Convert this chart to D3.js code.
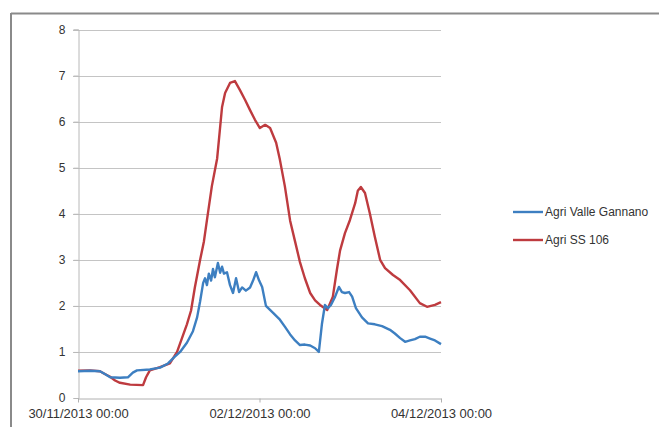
<!DOCTYPE html>
<html>
<head>
<meta charset="utf-8">
<script src="https://cdn.jsdelivr.net/npm/d3@7"></script>
<style>
html,body{margin:0;padding:0;background:#fff;}
svg{display:block;}
text{font-family:"Liberation Sans",Arial,sans-serif;fill:#333;}
</style>
</head>
<body>
<svg id="chart" width="659" height="427"></svg>
<script>
// hours after 30/11/2013 00:00
const seriesNames = ["Agri Valle Gannano", "Agri SS 106"];
const seriesColors = ["#3d7fc1", "#be3b3f"];
const yTicks = [0, 1, 2, 3, 4, 5, 6, 7, 8];
const xTickHours = [0, 48, 96];
const xTickLabels = ["30/11/2013 00:00", "02/12/2013 00:00", "04/12/2013 00:00"];

const blueHours = [0,3.2,5.8,7.1,8.5,11.1,13.2,14.5,15.6,19.0,21.7,23.8,25.4,27.0,28.8,30.4,31.5,32.3,33.1,33.6,34.1,34.6,35.2,35.7,36.2,37.0,37.6,38.1,38.6,39.4,40.2,41.0,41.8,42.6,43.4,44.4,45.5,46.3,47.1,47.9,48.7,49.7,51.6,53.4,54.7,56.1,57.4,58.7,60.0,61.4,62.7,63.7,64.5,65.3,66.1,66.9,68.0,69.0,69.8,70.6,71.7,72.5,73.5,75.1,76.7,78.5,80.4,82.5,83.8,85.2,86.5,87.8,89.1,90.4,91.8,93.1,94.4,96];
const blueValues = [0.58,0.59,0.58,0.52,0.45,0.44,0.45,0.55,0.6,0.62,0.66,0.75,0.88,1.0,1.2,1.45,1.75,2.1,2.5,2.6,2.45,2.7,2.55,2.8,2.62,2.93,2.72,2.85,2.7,2.73,2.45,2.28,2.6,2.3,2.4,2.33,2.4,2.55,2.73,2.55,2.41,2.0,1.85,1.7,1.55,1.38,1.25,1.15,1.16,1.14,1.08,1.0,1.6,2.02,1.95,2.02,2.2,2.41,2.3,2.28,2.3,2.2,1.95,1.75,1.62,1.6,1.56,1.48,1.4,1.3,1.22,1.25,1.28,1.33,1.33,1.29,1.25,1.17];

const redHours = [0,3.2,5.8,7.1,8.5,9.8,11.1,13.8,17.2,18.0,19.0,21.7,24.3,26.2,27.5,28.8,29.9,30.9,32.3,33.3,34.1,35.4,36.8,38.1,38.9,40.2,41.5,42.8,44.2,45.5,46.8,48.1,49.5,50.8,52.4,53.4,54.7,56.1,57.4,58.7,60.0,61.4,62.7,64.0,65.9,67.4,68.5,69.3,70.6,71.9,73.3,74.0,74.8,75.9,77.2,78.5,79.9,81.2,83.3,85.2,87.8,90.4,92.3,94.4,96];
const redValues = [0.59,0.6,0.58,0.52,0.46,0.38,0.33,0.29,0.28,0.45,0.6,0.67,0.75,1.0,1.3,1.6,1.9,2.4,3.0,3.4,3.86,4.6,5.2,6.32,6.62,6.84,6.88,6.69,6.47,6.25,6.04,5.86,5.93,5.86,5.54,5.17,4.6,3.85,3.4,2.95,2.6,2.28,2.12,2.02,1.91,2.2,2.8,3.2,3.58,3.86,4.23,4.5,4.58,4.45,4.0,3.5,3.0,2.82,2.67,2.56,2.34,2.06,1.98,2.02,2.08];

const start = new Date(2013, 10, 30, 0, 0);
const toDate = h => new Date(start.getTime() + h * 3600000);

const svg = d3.select("#chart");

// frame
svg.append("line").attr("x1", 11).attr("x2", 659).attr("y1", 13.5).attr("y2", 13.5)
  .attr("stroke", "#8a8a8a").attr("stroke-width", 2);
svg.append("line").attr("x1", 11).attr("x2", 11).attr("y1", 13).attr("y2", 427)
  .attr("stroke", "#8a8a8a").attr("stroke-width", 2);

const x = d3.scaleTime().domain([toDate(0), toDate(96)]).range([78, 441]);
const y = d3.scaleLinear().domain([0, 8]).range([398, 29.5]);

// gridlines
svg.append("g").selectAll("line").data(yTicks.filter(d => d > 0)).join("line")
  .attr("x1", 73).attr("x2", 441)
  .attr("y1", d => Math.round(y(d)) + 0.5).attr("y2", d => Math.round(y(d)) + 0.5)
  .attr("stroke", "#c4c4c4").attr("stroke-width", 1);

// y axis
const yAxis = d3.axisLeft(y).tickValues(yTicks).tickSize(5).tickPadding(8);
const gy = svg.append("g").attr("transform", "translate(78.5,0)").call(yAxis);
gy.select(".domain").attr("stroke", "#b8b8b8");
gy.selectAll(".tick line").attr("stroke", "#b8b8b8");
gy.selectAll(".tick text").style("font-size", "12px").attr("fill", "#333");

// x axis
const xAxis = d3.axisBottom(x).tickValues(xTickHours.map(toDate))
  .tickFormat((d, i) => xTickLabels[i]).tickSize(4).tickPadding(6).tickSizeOuter(0);
const gx = svg.append("g").attr("transform", "translate(0,398.5)").call(xAxis);
gx.select(".domain").attr("stroke", "#b0b0b0");
gx.selectAll(".tick line").attr("stroke", "#b0b0b0");
gx.selectAll(".tick text").style("font-size", "13px").attr("fill", "#333");

// lines
const line = d3.line().x(d => x(toDate(d[0]))).y(d => y(d[1])).curve(d3.curveLinear);
const seriesData = [
  blueHours.map((h, i) => [h, blueValues[i]]),
  redHours.map((h, i) => [h, redValues[i]])
];
[1, 0].forEach(i => {
  svg.append("path").datum(seriesData[i]).attr("d", line)
    .attr("fill", "none").attr("stroke", seriesColors[i]).attr("stroke-width", 2.4)
    .attr("stroke-linejoin", "round");
});

// legend
const lg = svg.append("g");
seriesNames.forEach((name, i) => {
  const yy = 212 + i * 28;
  lg.append("line").attr("x1", 513).attr("x2", 543).attr("y1", yy).attr("y2", yy)
    .attr("stroke", seriesColors[i]).attr("stroke-width", 2.4);
  lg.append("text").attr("x", 545).attr("y", yy + 4).style("font-size", "12px").text(name);
});
</script>
</body>
</html>
